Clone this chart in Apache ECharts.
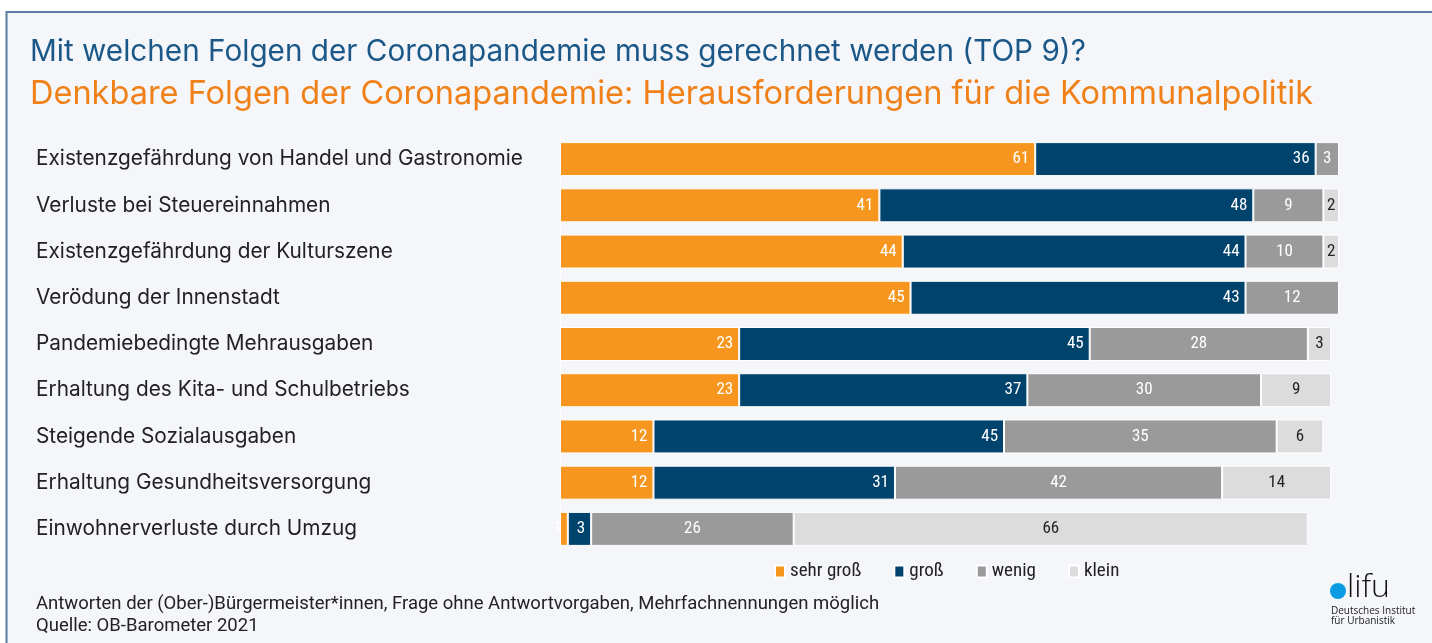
<!DOCTYPE html>
<html>
<head>
<meta charset="utf-8">
<script src="https://cdn.jsdelivr.net/npm/echarts@6/dist/echarts.min.js"></script>
<style>
  html, body { margin: 0; padding: 0; background: #ffffff; }
  #chart { width: 1432px; height: 643px; }
</style>
</head>
<body>
<div id="chart"></div>
<script>
// Kategorien (von oben nach unten)
const categories = [
    'Existenzgefährdung von Handel und Gastronomie',
    'Verluste bei Steuereinnahmen',
    'Existenzgefährdung der Kulturszene',
    'Verödung der Innenstadt',
    'Pandemiebedingte Mehrausgaben',
    'Erhaltung des Kita- und Schulbetriebs',
    'Steigende Sozialausgaben',
    'Erhaltung Gesundheitsversorgung',
    'Einwohnerverluste durch Umzug'
];
const seriesNames = ['sehr groß', 'groß', 'wenig', 'klein'];
// Werte in Prozent
const sehrGross = [61, 41, 44, 45, 23, 23, 12, 12, 1];
const gross     = [36, 48, 44, 43, 45, 37, 45, 31, 3];
const wenig     = [3, 9, 10, 12, 28, 30, 35, 42, 26];
const klein     = [null, 2, 2, null, 3, 9, 6, 14, 66];

const colors = ['#f7961f', '#00436d', '#9a9a9a', '#dcdcdc'];
const mainFont = "Inter, Roboto, sans-serif";
const valueFont = "'Liberation Sans Narrow', 'Roboto Condensed', Roboto, sans-serif";

function makeSeries(name, data, color, pos, labelColor) {
    return {
        name: name,
        type: 'bar',
        stack: 'total',
        barWidth: 34,
        data: data,
        itemStyle: { color: color, borderColor: '#ffffff', borderWidth: 1 },
        label: {
            show: true,
            position: pos,
            distance: 6,
            color: labelColor,
            fontFamily: valueFont,
            fontSize: 17
        }
    };
}

const chart = echarts.init(document.getElementById('chart'));
const option = {
    backgroundColor: '#ffffff',
    animation: false,
    textStyle: { fontFamily: mainFont },
    legend: {
        data: seriesNames,
        left: 769, top: 557,
        icon: 'rect',
        itemWidth: 10, itemHeight: 12,
        itemGap: 32,
        textStyle: { fontSize: 19, color: '#222222', fontFamily: valueFont }
    },
    grid: { left: 560, top: 136, width: 779, height: 416 },
    xAxis: { type: 'value', min: 0, max: 100, show: false },
    yAxis: {
        type: 'category',
        data: categories,
        inverse: true,
        axisTick: { show: false },
        axisLine: { show: true, lineStyle: { color: '#ffffff', width: 1 } },
        axisLabel: { align: 'left', margin: 524, fontSize: 20.8, color: '#222222', fontFamily: mainFont }
    },
    series: [
        makeSeries(seriesNames[0], sehrGross, colors[0], 'insideRight', '#ffffff'),
        makeSeries(seriesNames[1], gross, colors[1], 'insideRight', '#ffffff'),
        makeSeries(seriesNames[2], wenig, colors[2], 'inside', '#ffffff'),
        makeSeries(seriesNames[3], klein, colors[3], 'inside', '#222222')
    ],
    graphic: [
        {
            type: 'rect', z: -10, silent: true,
            shape: { x: 6.5, y: 12, width: 1440, height: 650 },
            style: { fill: '#f4f6fa', stroke: '#5b7da2', lineWidth: 2 }
        },
        {
            type: 'text', x: 30, y: 52,
            style: { text: 'Mit welchen Folgen der Coronapandemie muss gerechnet werden (TOP 9)?', fill: '#1b5888', font: '29.7px ' + mainFont, verticalAlign: 'middle' }
        },
        {
            type: 'text', x: 30, y: 94,
            style: { text: 'Denkbare Folgen der Coronapandemie: Herausforderungen für die Kommunalpolitik', fill: '#f08119', font: '32.5px ' + mainFont, verticalAlign: 'middle' }
        },
        {
            type: 'text', x: 36, y: 604,
            style: { text: 'Antworten der (Ober-)Bürgermeister*innen, Frage ohne Antwortvorgaben, Mehrfachnennungen möglich', fill: '#222222', font: '18.5px Roboto, sans-serif', verticalAlign: 'middle' }
        },
        {
            type: 'text', x: 36, y: 626,
            style: { text: 'Quelle: OB-Barometer 2021', fill: '#222222', font: '18.5px Roboto, sans-serif', verticalAlign: 'middle' }
        },
        // Logo difu
        {
            type: 'circle',
            shape: { cx: 1338, cy: 591, r: 8 },
            style: { fill: '#0a9be2' }
        },
        {
            type: 'text', x: 1347, y: 588,
            style: { text: 'lifu', fill: '#111111', font: "300 32px 'Open Sans', sans-serif", verticalAlign: 'middle' }
        },
        {
            type: 'text', x: 1331, y: 611,
            style: { text: 'Deutsches Institut', fill: '#222222', font: "10px 'Open Sans', sans-serif", verticalAlign: 'middle' }
        },
        {
            type: 'text', x: 1331, y: 621,
            style: { text: 'für Urbanistik', fill: '#222222', font: "10px 'Open Sans', sans-serif", verticalAlign: 'middle' }
        }
    ]
};
chart.setOption(option);
window.addEventListener('resize', () => chart.resize());
</script>
</body>
</html>
